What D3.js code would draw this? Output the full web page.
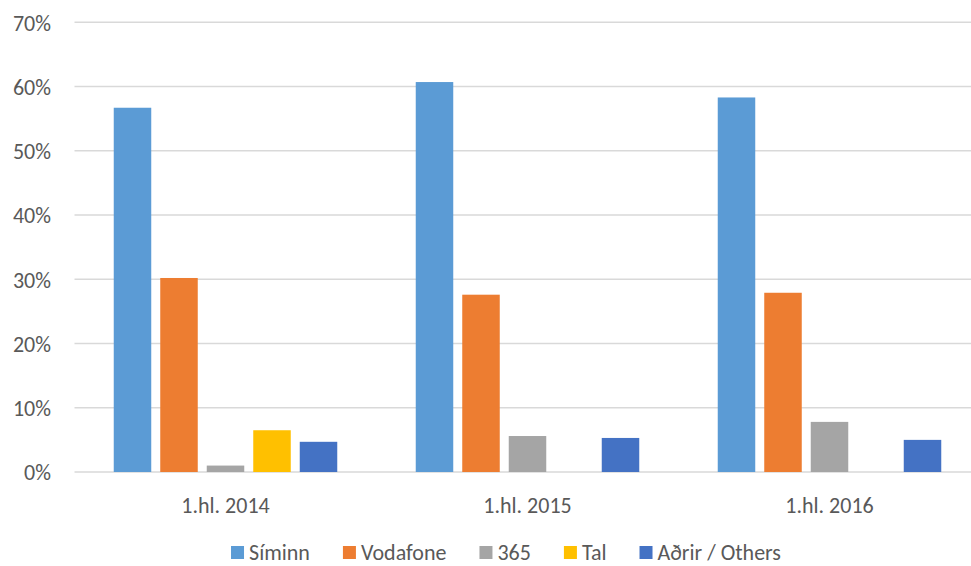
<!DOCTYPE html>
<html>
<head>
<meta charset="utf-8">
<script src="https://cdn.jsdelivr.net/npm/d3@7"></script>
<style>
  html, body { margin: 0; padding: 0; background: #fff; }
  svg { display: block; }
  text { font-family: Carlito, Lato, "Noto Sans", sans-serif; fill: #595959; }
</style>
</head>
<body>
<svg id="chart" width="971" height="566"></svg>
<script>
const categories = ["1.hl. 2014", "1.hl. 2015", "1.hl. 2016"];
const seriesNames = ["Síminn", "Vodafone", "365", "Tal", "Aðrir / Others"];
const seriesColors = ["#5B9BD5", "#ED7D31", "#A5A5A5", "#FFC000", "#4472C4"];
const siminn = [56.7, 60.7, 58.3];
const vodafone = [30.2, 27.6, 27.9];
const s365 = [1.0, 5.6, 7.8];
const tal = [6.5, null, null];
const others = [4.7, 5.3, 5.0];
const yTicks = [0, 10, 20, 30, 40, 50, 60, 70];

const seriesValues = [siminn, vodafone, s365, tal, others];

const svg = d3.select("#chart");
const W = 971, H = 566;
const FS = 22;
const margin = { left: 74.5, right: -9.5, top: 22.3, bottom: 94 };
const plotW = W - margin.left - margin.right;
const plotH = H - margin.top - margin.bottom;

const x0 = d3.scaleBand().domain(categories).range([margin.left, margin.left + plotW]).paddingInner(0).paddingOuter(0);
const x1 = d3.scaleBand().domain(seriesNames).range([0, x0.bandwidth()]).paddingInner(0.1935).paddingOuter(0.844);
const y = d3.scaleLinear().domain([0, 70]).range([margin.top + plotH, margin.top]);

// gridlines
const grid = svg.append("g");
grid.selectAll("line").data(yTicks).join("line")
  .attr("x1", margin.left).attr("x2", W)
  .attr("y1", d => y(d)).attr("y2", d => y(d))
  .attr("stroke", "#d9d9d9").attr("stroke-width", 1.5);

// y axis labels
const yAxis = d3.axisLeft(y).tickValues(yTicks).tickFormat(d => d + "%").tickSize(0).tickPadding(0);
const ya = svg.append("g").attr("transform", `translate(${51},0)`).call(yAxis);
ya.select(".domain").remove();
ya.selectAll("text").attr("font-size", FS).attr("font-family", null).style("fill", "#595959").attr("dy", "0.36em");

// bars
const groups = svg.append("g").selectAll("g").data(categories).join("g")
  .attr("transform", d => `translate(${x0(d)},0)`);
groups.selectAll("rect")
  .data((c, ci) => seriesNames.map((s, si) => ({ s, si, v: seriesValues[si][ci] })).filter(d => d.v != null))
  .join("rect")
  .attr("x", d => x1(d.s))
  .attr("width", x1.bandwidth())
  .attr("y", d => y(d.v))
  .attr("height", d => y(0) - y(d.v))
  .attr("fill", d => seriesColors[d.si]);

// x axis labels
const xAxis = d3.axisBottom(x0).tickSize(0).tickPadding(0);
const xa = svg.append("g").attr("transform", `translate(0,${y(0)})`).call(xAxis);
xa.select(".domain").remove();
xa.selectAll("text").attr("font-size", FS).attr("font-family", null).style("fill", "#595959")
  .attr("dy", "0.36em").attr("y", 33);

// legend
const legend = svg.append("g");
const items = legend.selectAll("g").data(seriesNames).join("g");
items.append("rect").attr("width", 13).attr("height", 13).attr("y", -6.5)
  .attr("fill", (d, i) => seriesColors[i]);
items.append("text").attr("x", 18).attr("dy", "0.36em").attr("font-size", FS).text(d => d);
let widths = [];
items.each(function () { widths.push(this.getBBox().width); });
const gap = 33;
const total = d3.sum(widths) + gap * (widths.length - 1);
let cx = 506 - total / 2;
items.attr("transform", (d, i) => { const t = `translate(${cx},552.5)`; cx += widths[i] + gap; return t; });
</script>
</body>
</html>
